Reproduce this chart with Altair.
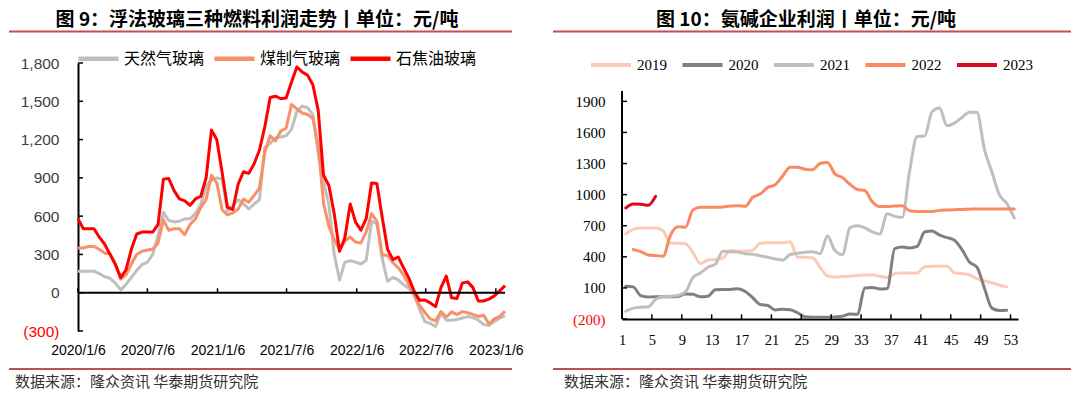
import altair as alt
import pandas as pd

# ---------------- Left chart data (fortnightly readings from 2020-01-06) ----------------
left_start = "2020-01-06"
left_series = ["天然气玻璃", "煤制气玻璃", "石焦油玻璃"]
left_colors = ["#BFBFBF", "#F8906A", "#FF0000"]
gas = [169, 169, 169, 169, 150, 125, 113, 75, 22, 65,
       120, 175, 220, 240, 300, 450, 630, 566, 555, 560,
       579, 579, 620, 690, 840, 880, 900, 891, 640, 680,
       728, 696, 657, 695, 730, 1140, 1170, 1215, 1220, 1230,
       1280, 1420, 1462, 1450, 1395, 1090, 870, 690, 300, 100,
       240, 250, 240, 225, 255, 560, 540, 267, 90, 120,
       100, 62, 34, -20, -130, -226, -240, -265, -160, -215,
       -215, -210, -198, -187, -195, -215, -250, -255, -225, -200,
       -180]
coal = [351, 351, 362, 362, 340, 310, 306, 230, 107, 140,
        225, 300, 325, 334, 340, 390, 570, 490, 501, 501,
        455, 535, 579, 668, 730, 920, 860, 650, 610, 625,
        655, 733, 709, 763, 820, 1100, 1230, 1189, 1267, 1290,
        1475, 1440, 1408, 1397, 1365, 1160, 700, 520, 420, 335,
        405, 436, 397, 390, 475, 620, 560, 293, 293, 235,
        195, 140, 60, -20, -100, -155, -205, -220, -148, -190,
        -150, -172, -148, -157, -170, -186, -176, -245, -205, -185,
        -145]
oil = [580, 501, 501, 501, 435, 380, 300, 220, 117, 180,
       340, 460, 475, 475, 475, 535, 890, 895, 800, 735,
       720, 685, 735, 756, 900, 1275, 1200, 943, 670, 652,
       850, 948, 935, 1010, 1118, 1300, 1530, 1540, 1520, 1525,
       1650, 1769, 1730, 1705, 1630, 1430, 920, 840, 620, 325,
       430, 696, 553, 490, 580, 860, 855, 590, 340, 260,
       280, 195, 112, 10, -60, -57, -80, -109, 40, 130,
       -40, -45, 75, 85, 40, -65, -65, -50, -25, 15,
       55]
left_tick_dates = [(2020, 1, 6), (2020, 7, 6), (2021, 1, 6), (2021, 7, 6),
                   (2022, 1, 6), (2022, 7, 6), (2023, 1, 6)]
left_y_ticks = [-300, 0, 300, 600, 900, 1200, 1500, 1800]
left_title = "图 9：浮法玻璃三种燃料利润走势丨单位：元/吨"
source_text = "数据来源：隆众资讯 华泰期货研究院"

# ---------------- Right chart data (weekly) ----------------
years = ["2019", "2020", "2021", "2022", "2023"]
right_colors = ["#FCCBB5", "#808080", "#BFBFBF", "#F98B62", "#DC0A1E"]
v2019 = [620, 665, 678, 678, 680, 650, 530, 530, 525, 440,
         335, 370, 375, 390, 458, 453, 455, 465, 530, 535,
         535, 535, 545, 395, 395, 390, 300, 215, 205, 210,
         212, 220, 225, 228, 212, 200, 240, 244, 244, 244,
         305, 310, 310, 310, 245, 240, 225, 190, 168, 150,
         125, 110]
v2020 = [116, 110, 25, 12, 15, 15, 15, 18, 42, 38,
         15, 20, 82, 85, 85, 92, 65, 5, -60, -70,
         -112, -105, -110, -140, -178, -182, -183, -183, -180, -174,
         -152, -155, 100, 105, 90, 95, 480, 495, 485, 500,
         640, 650, 610, 585, 560, 470, 350, 300, 100, -95,
         -118, -116]
v2021 = [-125, -95, -86, -84, -10, 15, 20, 28, 62, 200,
         244, 300, 330, 453, 450, 447, 430, 425, 410, 395,
         380, 368, 422, 435, 445, 450, 430, 600, 460, 420,
         680, 700, 680, 640, 620, 815, 790, 780, 1230, 1560,
         1565, 1800, 1835, 1665, 1690, 1745, 1795, 1795, 1440, 1220,
         1000, 915, 775]
v2022 = [470, 450, 418, 412, 405, 610, 690, 685, 855, 878,
         878, 878, 880, 890, 892, 888, 975, 1005, 1070, 1095,
         1180, 1265, 1265, 1245, 1240, 1300, 1310, 1200, 1165, 1100,
         1050, 1040, 930, 885, 885, 890, 893, 845, 838, 838,
         838, 848, 852, 855, 857, 860, 862, 862, 862, 862,
         862, 862]
v2023 = [871, 910, 908, 897, 984]
first_week = {"2019": 1, "2020": 1, "2021": 1, "2022": 2, "2023": 1}
right_x_ticks = [1, 5, 9, 13, 17, 21, 25, 29, 33, 37, 41, 45, 49, 53]
right_y_ticks = [-200, 100, 400, 700, 1000, 1300, 1600, 1900]
right_axis_span = [-200, 2000]
right_title = "图 10：氨碱企业利润丨单位：元/吨"

# ---------------- build tables ----------------
dates = pd.date_range(left_start, periods=len(gas), freq="14D").strftime("%Y-%m-%dT00:00:00")
rows = []
for name, vals in zip(left_series, [gas, coal, oil]):
    for d, v in zip(dates, vals):
        rows.append({"date": d, "series": name, "value": v})
df_left = pd.DataFrame(rows)

rows = []
for y, vals in zip(years, [v2019, v2020, v2021, v2022, v2023]):
    for i, v in enumerate(vals):
        rows.append({"year": y, "week": first_week[y] + i, "value": v})
df_right = pd.DataFrame(rows)

CJK = "Noto Sans CJK SC"
SANS = "Liberation Sans"
SERIF = "Liberation Serif"
RULE_COLOR = "#C0504D"
neg_expr = "datum.value < 0 ? '(' + format(-datum.value, ',') + ')' : format(datum.value, ',')"
one = pd.DataFrame({"t": [0]})

def dt(t):
    return alt.DateTime(year=t[0], month=t[1], date=t[2])

# ---------------- axes (identical spec in every layer, so nothing conflicts) ----------------
ax_x1 = alt.Axis(values=[dt(t) for t in left_tick_dates], labelExpr="timeFormat(datum.value, '%Y/%-m/%-d')",
                 labelFont=SANS, labelFontSize=14, labelColor="#000000", labelPadding=12,
                 labelOverlap=False, labelFlush=False, labelBound=False, title=None,
                 domain=False, ticks=False, tickSize=0, grid=False, labelAngle=0)
ax_y1 = alt.Axis(values=left_y_ticks, labelExpr=neg_expr,
                 labelColor={"condition": {"test": "datum.value < 0", "value": "#FF0000"}, "value": "#404040"},
                 labelFont=SANS, labelFontSize=15.5, labelPadding=19,
                 labelOverlap=False, labelFlush=False, labelBound=False, title=None,
                 domain=True, domainColor="#000000", domainWidth=2,
                 ticks=False, tickSize=0, grid=False)
ax_x2 = alt.Axis(values=[t - 1 for t in right_x_ticks], labelExpr="datum.value + 1",
                 labelFont=SERIF, labelFontSize=14.5, labelColor="#000000", labelPadding=14,
                 labelOverlap=False, labelFlush=False, labelBound=False, title=None,
                 domain=True, domainColor="#000000", domainWidth=2,
                 ticks=False, tickSize=0, grid=False)
ax_y2 = alt.Axis(values=right_y_ticks,
                 labelExpr="datum.value < 0 ? '(' + (-datum.value) + ')' : '' + datum.value",
                 labelColor={"condition": {"test": "datum.value < 0", "value": "#FF0000"}, "value": "#000000"},
                 labelFont=SERIF, labelFontSize=15, labelPadding=17,
                 labelOverlap=False, labelFlush=False, labelBound=False, title=None,
                 domain=False, ticks=False, tickSize=0, grid=False)

# ---------------- left panel ----------------
W1, H1 = 427, 268
xs1 = alt.Scale(domain=[dt((2020, 1, 6)), dt((2023, 1, 30))], nice=False)
ys1 = alt.Scale(domain=[-300, 1800], nice=False, zero=False)

lines1 = alt.Chart(df_left).mark_line(strokeWidth=3, strokeJoin="round").encode(
    x=alt.X("date:T", scale=xs1, axis=ax_x1),
    y=alt.Y("value:Q", scale=ys1, axis=ax_y1),
    color=alt.Color("series:N", scale=alt.Scale(domain=left_series, range=left_colors),
                    legend=alt.Legend(orient="none", legendX=-2, legendY=-27, direction="horizontal",
                                      title=None, symbolType="stroke", symbolSize=1600,
                                      symbolStrokeWidth=4.5, labelFont=CJK, labelFontSize=16,
                                      labelColor="#000000", columnPadding=0, labelOffset=3)),
)
zero1 = alt.Chart(pd.DataFrame({"value": [0]})).mark_rule(color="#000000", strokeWidth=2).encode(
    y=alt.Y("value:Q", scale=ys1, axis=ax_y1))
xt1 = alt.Chart(pd.DataFrame({"date": [f"{t[0]:04d}-{t[1]:02d}-{t[2]:02d}T00:00:00" for t in left_tick_dates]})).mark_rule(
    color="#000000", strokeWidth=1.5).encode(x=alt.X("date:T", scale=xs1, axis=ax_x1),
                                             y=alt.YDatum(0, axis=ax_y1), y2=alt.Y2Datum(35))
yt1 = alt.Chart(pd.DataFrame({"value": left_y_ticks})).mark_rule(color="#000000", strokeWidth=1.5).encode(
    y=alt.Y("value:Q", scale=ys1, axis=ax_y1), x=alt.value(0), x2=alt.value(5))
title1 = alt.Chart(pd.DataFrame({"t": [left_title]})).mark_text(
    font=CJK, fontSize=19, fontWeight="bold", align="center", baseline="top", color="#000000").encode(
    text="t:N", x=alt.value(179), y=alt.value(-52))
rule1a = alt.Chart(one).mark_rule(color=RULE_COLOR, strokeWidth=2).encode(
    x=alt.value(-69), x2=alt.value(434), y=alt.value(-31.5))
rule1b = alt.Chart(one).mark_rule(color=RULE_COLOR, strokeWidth=2).encode(
    x=alt.value(-69), x2=alt.value(434), y=alt.value(306))
src1 = alt.Chart(pd.DataFrame({"t": [source_text]})).mark_text(
    font=CJK, fontSize=15, align="left", baseline="middle", color="#333333").encode(
    text="t:N", x=alt.value(-63), y=alt.value(319))

left = alt.layer(lines1, zero1, xt1, yt1, title1, rule1a, rule1b, src1).properties(width=W1, height=H1)

# ---------------- right panel ----------------
# plot area shares its top with the left panel; the y axis line itself stops at 2000
W2, H2 = 396, 256
xs2 = alt.Scale(domain=[0, 53], nice=False, zero=False)
ys2 = alt.Scale(domain=[-200, 2270], nice=False, zero=False)

lines2 = alt.Chart(df_right).transform_calculate(pos="datum.week - 0.5").mark_line(
    strokeWidth=3, interpolate="monotone", strokeCap="round").encode(
    x=alt.X("pos:Q", scale=xs2, axis=ax_x2),
    y=alt.Y("value:Q", scale=ys2, axis=ax_y2),
    color=alt.Color("year:N", scale=alt.Scale(domain=years, range=right_colors),
                    legend=alt.Legend(orient="none", legendX=-33, legendY=-20, direction="horizontal",
                                      title=None, symbolType="stroke", symbolSize=1600,
                                      symbolStrokeWidth=4, labelFont=SERIF, labelFontSize=15,
                                      labelColor="#000000", columnPadding=7.5, labelOffset=4)),
)
yaxis2 = alt.Chart(one).mark_rule(color="#000000", strokeWidth=2).encode(
    x=alt.value(0), y=alt.YDatum(right_axis_span[0], axis=ax_y2), y2=alt.Y2Datum(right_axis_span[1]))
xt2 = alt.Chart(pd.DataFrame({"t": right_x_ticks})).transform_calculate(pos="datum.t - 1").mark_rule(
    color="#000000", strokeWidth=1.5).encode(x=alt.X("pos:Q", scale=xs2, axis=ax_x2),
                                             y=alt.YDatum(-200, axis=ax_y2), y2=alt.Y2Datum(-155))
yt2 = alt.Chart(pd.DataFrame({"value": right_y_ticks})).mark_rule(color="#000000", strokeWidth=1.5).encode(
    y=alt.Y("value:Q", scale=ys2, axis=ax_y2), x=alt.value(0), x2=alt.value(5))
title2 = alt.Chart(pd.DataFrame({"t": [right_title]})).mark_text(
    font=CJK, fontSize=19, fontWeight="bold", align="center", baseline="top", color="#000000").encode(
    text="t:N", x=alt.value(184), y=alt.value(-52))
rule2a = alt.Chart(one).mark_rule(color=RULE_COLOR, strokeWidth=2).encode(
    x=alt.value(-69), x2=alt.value(449), y=alt.value(-31.5))
rule2b = alt.Chart(one).mark_rule(color=RULE_COLOR, strokeWidth=2).encode(
    x=alt.value(-69), x2=alt.value(449), y=alt.value(306))
src2 = alt.Chart(pd.DataFrame({"t": [source_text]})).mark_text(
    font=CJK, fontSize=15, align="left", baseline="middle", color="#333333").encode(
    text="t:N", x=alt.value(-58), y=alt.value(319))

right = alt.layer(lines2, yaxis2, xt2, yt2, title2, rule2a, rule2b, src2).properties(width=W2, height=H2)

chart = alt.hconcat(left, right, spacing=28).resolve_scale(
    x="independent", y="independent", color="independent").properties(
    padding={"top": 3, "bottom": 0, "left": 0, "right": 0}).configure_view(stroke=None)

chart.save("out.html", embed_options={"renderer": "svg", "actions": False})
